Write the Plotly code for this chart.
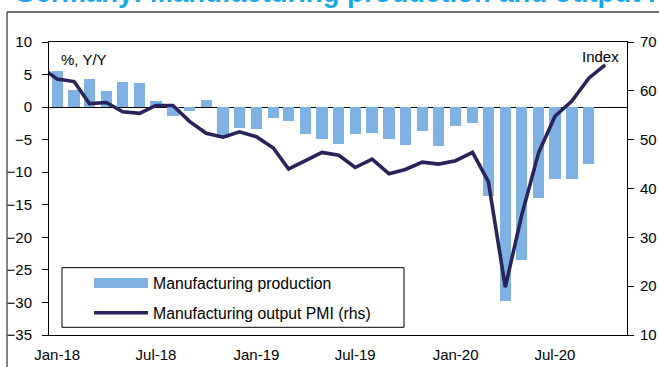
import plotly.graph_objects as go

# ---- data ----
prod_months = [
    "2018-01-01", "2018-02-01", "2018-03-01", "2018-04-01", "2018-05-01", "2018-06-01",
    "2018-07-01", "2018-08-01", "2018-09-01", "2018-10-01", "2018-11-01", "2018-12-01",
    "2019-01-01", "2019-02-01", "2019-03-01", "2019-04-01", "2019-05-01", "2019-06-01",
    "2019-07-01", "2019-08-01", "2019-09-01", "2019-10-01", "2019-11-01", "2019-12-01",
    "2020-01-01", "2020-02-01", "2020-03-01", "2020-04-01", "2020-05-01", "2020-06-01",
    "2020-07-01", "2020-08-01", "2020-09-01",
]
production = [
    5.6, 2.7, 4.35, 2.5, 3.8, 3.7, 0.9, -1.3, -0.55, 1.1, -4.8, -3.2,
    -3.3, -1.7, -2.2, -4.2, -4.85, -5.7, -4.1, -4.0, -4.85, -5.8, -3.6, -6.0,
    -2.9, -2.45, -13.6, -29.8, -23.5, -13.9, -11.1, -11.1, -8.7,
]
pmi_months = ["2017-12-01"] + prod_months + ["2020-10-01"]
pmi_output = [
    65.0,
    62.4, 61.9, 57.4, 57.6, 55.7, 55.4, 57.0, 57.0, 53.7, 51.3, 50.5, 51.6,
    50.6, 48.3, 44.0, 45.7, 47.4, 46.8, 44.3, 46.0, 43.0, 43.9, 45.4, 45.0,
    45.7, 47.4, 41.4, 19.8, 34.5, 47.3, 54.8, 57.9, 62.6, 65.3,
]
tick_vals = ["2018-01-01", "2018-07-01", "2019-01-01", "2019-07-01", "2020-01-01", "2020-07-01"]
tick_text = ["Jan-18", "Jul-18", "Jan-19", "Jul-19", "Jan-20", "Jul-20"]

BAR_COLOR = "#7EB2E3"
LINE_COLOR = "#29235C"
FONT = "Liberation Sans, Arial, sans-serif"

fig = go.Figure()
fig.add_trace(go.Bar(
    x=prod_months, y=production, name="Manufacturing production",
    marker=dict(color=BAR_COLOR, line=dict(width=0)),
    width=0.68 * 30.4 * 86400000, showlegend=False,
))
fig.add_trace(go.Scatter(
    x=pmi_months, y=pmi_output, name="Manufacturing output PMI (rhs)",
    mode="lines", line=dict(color=LINE_COLOR, width=3.6), yaxis="y2", showlegend=False,
))

W, H = 659, 367
L, R, T, B = 49, 32, 42, 32
pw, ph = W - L - R, H - T - B


def px(x):
    return (x - L) / pw


def py(y):
    return 1 - (y - T) / ph


shapes = [
    # outer frame (partially visible)
    dict(type="line", xref="paper", yref="paper", x0=px(7), x1=px(700), y0=py(12), y1=py(12),
         line=dict(color="#404040", width=1.3)),
    dict(type="line", xref="paper", yref="paper", x0=px(7), x1=px(7), y0=py(12), y1=py(400),
         line=dict(color="#404040", width=1.3)),
    # legend box
    dict(type="rect", xref="paper", yref="paper", x0=px(62), x1=px(404), y0=py(267.7), y1=py(327.3),
         line=dict(color="black", width=1), fillcolor="white"),
    dict(type="rect", xref="paper", yref="paper", x0=px(94), x1=px(148), y0=py(278), y1=py(288),
         line=dict(width=0), fillcolor=BAR_COLOR),
    dict(type="line", xref="paper", yref="paper", x0=px(94), x1=px(148), y0=py(312.7), y1=py(312.7),
         line=dict(color=LINE_COLOR, width=3.6)),
]

annotations = [
    dict(text="Germany: Manufacturing production and output PMI", xref="paper", yref="paper",
         x=px(12), y=py(10), xanchor="left", yanchor="bottom", showarrow=False,
         font=dict(family=FONT, size=27.5, color="#18A9E6", weight="bold")),
    dict(text="%, Y/Y", xref="paper", yref="paper", x=px(59), y=py(59.5), xanchor="left",
         yanchor="middle", showarrow=False, font=dict(family=FONT, size=15, color="black")),
    dict(text="Index", xref="paper", yref="paper", x=px(621), y=py(57), xanchor="right",
         yanchor="middle", showarrow=False, font=dict(family=FONT, size=15, color="black")),
    dict(text="Manufacturing production", xref="paper", yref="paper", x=px(151), y=py(283),
         xanchor="left", yanchor="middle", showarrow=False,
         font=dict(family=FONT, size=15.8, color="black")),
    dict(text="Manufacturing output PMI (rhs)", xref="paper", yref="paper", x=px(151), y=py(313),
         xanchor="left", yanchor="middle", showarrow=False,
         font=dict(family=FONT, size=15.8, color="black")),
]

fig.update_layout(
    width=W, height=H,
    margin=dict(l=L, r=R, t=T, b=B, pad=0, autoexpand=False),
    paper_bgcolor="white", plot_bgcolor="white",
    font=dict(family=FONT, size=15, color="black"),
    bargap=0,
    shapes=shapes,
    annotations=annotations,
    xaxis=dict(
        type="date", range=["2017-12-17", "2020-11-10"],
        tickvals=tick_vals, ticktext=tick_text, ticks="",
        showgrid=False, zeroline=False, automargin=False,
        showline=True, linecolor="black", linewidth=1, mirror=True,
        ticklabelstandoff=6,
    ),
    yaxis=dict(
        range=[-35, 10], dtick=5, tick0=0, ticks="outside", ticklen=6, tickcolor="black",
        showgrid=False, zeroline=True, zerolinecolor="black", zerolinewidth=1, automargin=False,
        showline=True, linecolor="black", linewidth=1, mirror=True,
        ticklabelstandoff=7,
    ),
    yaxis2=dict(
        range=[10, 70], dtick=10, tick0=10, overlaying="y", side="right",
        ticks="outside", ticklen=6, tickcolor="black", automargin=False,
        showgrid=False, zeroline=False, showline=True, linecolor="black", linewidth=1,
        ticklabelstandoff=3,
    ),
)

fig.write_html("out.html")
